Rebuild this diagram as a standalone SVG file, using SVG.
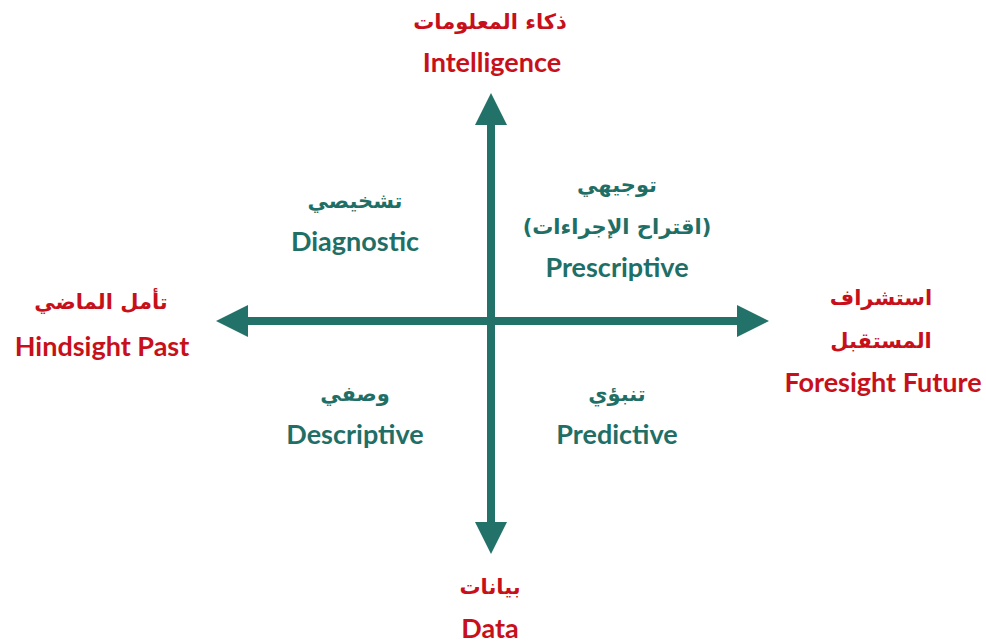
<svg xmlns="http://www.w3.org/2000/svg" width="986" height="643" viewBox="0 0 986 643">
<style>
.en{font-family:Lato,"Open Sans","Liberation Sans",sans-serif;font-weight:bold;font-size:27px;text-anchor:middle}
.ar{font-family:"DejaVu Sans","Noto Sans",sans-serif;font-weight:bold;font-size:21px;text-anchor:middle}
.red{fill:#C8101A}
.teal{fill:#1F6F66}
.axis{stroke:#22726A;stroke-width:8;fill:none}
</style>
<defs>
<marker id="ah" viewBox="0 0 10 10" refX="0" refY="5" markerWidth="4" markerHeight="4" orient="auto" markerUnits="strokeWidth">
<path d="M0,0 L10,5 L0,10 z" fill="#22726A"/>
</marker>
</defs>
<rect width="986" height="643" fill="#ffffff"/>
<g id="connectors">
<line class="axis" x1="491" y1="321" x2="248" y2="321" marker-end="url(#ah)"/>
<line class="axis" x1="491" y1="321" x2="737" y2="321" marker-end="url(#ah)"/>
<line class="axis" x1="491" y1="321" x2="491" y2="125" marker-end="url(#ah)"/>
<line class="axis" x1="491" y1="321" x2="491" y2="522" marker-end="url(#ah)"/>
</g>
<g id="intelligence">
<text class="ar red" x="490" y="29">ذكاء المعلومات</text>
<text class="en red" x="492" y="72">Intelligence</text>
</g>
<g id="data">
<text class="ar red" x="490" y="594">بيانات</text>
<text class="en red" x="490" y="638">Data</text>
</g>
<g id="hindsight">
<text class="ar red" x="101" y="309">تأمل الماضي</text>
<text class="en red" x="102" y="356">Hindsight Past</text>
</g>
<g id="foresight">
<text class="ar red" x="881" y="305">استشراف</text>
<text class="ar red" x="881" y="348">المستقبل</text>
<text class="en red" x="883" y="392">Foresight Future</text>
</g>
<g id="diagnostic">
<text class="ar teal" x="355" y="208">تشخيصي</text>
<text class="en teal" x="355" y="251">Diagnostic</text>
</g>
<g id="prescriptive">
<text class="ar teal" x="617" y="192">توجيهي</text>
<text class="ar teal" x="617" y="234">(اقتراح الإجراءات)</text>
<text class="en teal" x="617" y="277">Prescriptive</text>
</g>
<g id="descriptive">
<text class="ar teal" x="355" y="401">وصفي</text>
<text class="en teal" x="355" y="444">Descriptive</text>
</g>
<g id="predictive">
<text class="ar teal" x="617" y="401">تنبؤي</text>
<text class="en teal" x="617" y="444">Predictive</text>
</g>
</svg>
